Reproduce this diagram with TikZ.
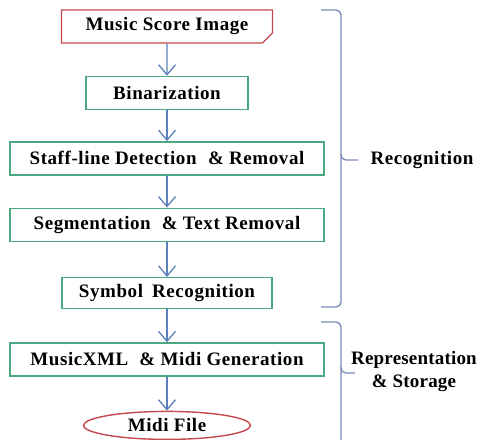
\documentclass[tikz,border=0pt]{standalone}
\usepackage{fontspec}
\setmainfont[LetterSpace=3]{Liberation Serif}
\usepackage{tikz}
\usetikzlibrary{arrows.meta,positioning,shapes.geometric,shapes.misc}

\definecolor{boxgreen}{RGB}{76,168,128}
\definecolor{boxred}{RGB}{196,72,76}
\definecolor{arrowblue}{RGB}{92,128,186}
\definecolor{bracegray}{RGB}{120,138,182}

\begin{document}
\begin{tikzpicture}[
  x=1pt, y=-1pt,
  font=\fontsize{19}{23}\selectfont\bfseries,
  box/.style={draw=boxgreen, line width=1.4pt, align=center, minimum height=33pt, inner sep=2pt},
  src/.style={draw=boxred, line width=1.4pt, chamfered rectangle, chamfered rectangle corners=south east,
    chamfered rectangle xsep=5pt, chamfered rectangle ysep=5pt, minimum height=33pt, minimum width=211pt, inner sep=2pt},
  outfile/.style={draw=boxred, line width=1.4pt, ellipse, minimum width=167pt, minimum height=28pt, inner sep=0pt},
  arrow/.style={-{Straight Barb[length=10pt,width=17pt]}, arrowblue, line width=1.3pt},
  brace/.style={bracegray, line width=1.3pt, rounded corners=5pt},
  lbl/.style={align=center, inner sep=0pt}
]
\useasboundingbox (0,0) rectangle (479,439);

\node[src] (score) at (167,26.5) {Music Score Image};
\node[box, minimum width=162pt, below=32pt of score] (bin) {Binarization};
\node[box, minimum width=314pt, below=31pt of bin] (staff) {Staff-line Detection\hspace{0.6em}\& Removal};
\node[box, minimum width=314pt, below=32pt of staff] (seg) {Segmentation\hspace{0.3em} \& Text Removal};
\node[box, minimum width=210pt, minimum height=31pt, below=35pt of seg] (sym) {Symbol\hspace{0.2em} Recognition};
\node[box, minimum width=314pt, below=33pt of sym] (xml) {MusicXML\hspace{0.3em} \& Midi Generation};
\node[outfile, below=34pt of xml] (midi) {Midi File};

\draw[arrow] (score) -- (bin);
\draw[arrow] (bin) -- (staff);
\draw[arrow] (staff) -- (seg);
\draw[arrow] (seg) -- (sym);
\draw[arrow] (sym) -- (xml);
\draw[arrow] (xml) -- (midi);

% braces
\coordinate (rtop) at (321,10);
\coordinate (rbot) at (321,307);
\coordinate (rtip) at (358,160);
\draw[brace] (rtop) -- (341,10) -- (341,307) -- (rbot);
\draw[brace] (341,154) -- (341,160) -- (rtip);
\node[lbl] (rec) at (422,160) {Recognition};

\coordinate (stop) at (321,322);
\coordinate (sbot) at (341,445);
\coordinate (stip) at (355,373);
\draw[brace] (stop) -- (341,322) -- (sbot);
\draw[brace] (341,367) -- (341,373) -- (stip);
\node[lbl, font=\fontsize{19}{23}\selectfont\bfseries\addfontfeatures{LetterSpace=1}] (rep) at (414,372) {Representation\\\& Storage};
\end{tikzpicture}
\end{document}
